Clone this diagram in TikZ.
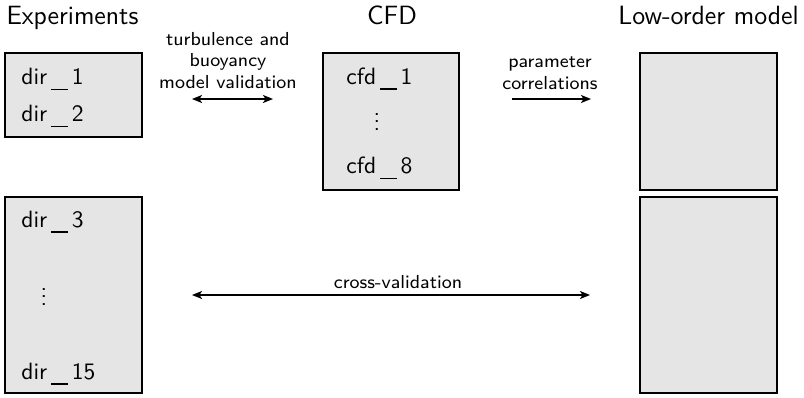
\documentclass[tikz,border=0pt]{standalone}
\usetikzlibrary{arrows.meta}
\newcommand\usc{\kern0.17em\rule[-0.24em]{0.72em}{0.062em}\kern0.15em}
\newcommand\bigvdots{\vbox{\baselineskip=3.6pt\lineskiplimit=-10pt\lineskip=0pt\hbox{.}\hbox{.}\hbox{.}}}
\begin{document}
\begin{tikzpicture}[x=1pt,y=-1pt,
  box/.style={draw,line width=1.5pt,fill=gray!20,inner sep=0pt,minimum width=#1},
  lbl/.style={inner sep=0pt,anchor=base west,scale=2.2,font=\sffamily\fontsize{10.7}{12}\selectfont},
  dts/.style={inner sep=0pt,scale=2.2,font=\sffamily\fontsize{10.7}{12}\selectfont},
  ttl/.style={inner sep=0pt,anchor=base,scale=2.2,font=\sffamily\fontsize{12}{14}\selectfont},
  note/.style={inner sep=0pt,align=center,scale=2.35,font=\sffamily\fontsize{8}{8.94}\selectfont},
  conn/.style={line width=1.5pt,{Stealth[length=10pt,width=8pt,inset=2.5pt]}-{Stealth[length=10pt,width=8pt,inset=2.5pt]}},
  conn1/.style={line width=1.5pt,-{Stealth[length=10pt,width=8pt,inset=2.5pt]}}]
\useasboundingbox (0,0) rectangle (804,397);
% boxes
\node[box=137pt,minimum height=84pt] (b1) at (73.5,95) {};
\node[box=137pt,minimum height=196pt] (b2) at (73.5,295) {};
\node[box=136pt,minimum height=137pt] (cfd) at (391,121.5) {};
\node[box=137pt,minimum height=137pt] (l1) at (708.5,121.5) {};
\node[box=137pt,minimum height=196pt] (l2) at (708.5,295) {};
% titles
\node[ttl] (t1) at (72.5,24.5) {Experiments};
\node[ttl] (t2) at (392,24.5) {CFD};
\node[ttl] (t3) at (708.5,24.5) {Low-order model};
% box texts
\node[lbl] (d1) at (21,84.5) {dir\usc1};
\node[lbl] (d2) at (21,121.5) {dir\usc2};
\node[lbl] (d3) at (21,227) {dir\usc3};
\node[lbl] (d15) at (21,379) {dir\usc15};
\node[dts] (dv) at (44,297) {\bigvdots};
\node[lbl] (c1) at (346,84) {cfd\usc1};
\node[lbl] (c8) at (346,173.5) {cfd\usc8};
\node[dts] (cv) at (377,122) {\bigvdots};
% connectors
\coordinate (a1s) at (192,99); \coordinate (a1e) at (273,99);
\coordinate (a2s) at (512,99); \coordinate (a2e) at (591,99);
\coordinate (a3s) at (192,295); \coordinate (a3e) at (590,295);
\draw[conn] (a1s) -- (a1e);
\draw[conn1] (a2s) -- (a2e);
\draw[conn] (a3s) -- (a3e);
\node[note,anchor=base] (n1) at (228,88) {turbulence and\\buoyancy\\model validation};
\node[note,anchor=base] (n2) at (550,89) {parameter\\correlations};
\node[note,anchor=base] (n3) at (398,288) {cross-validation};
\end{tikzpicture}
\end{document}
